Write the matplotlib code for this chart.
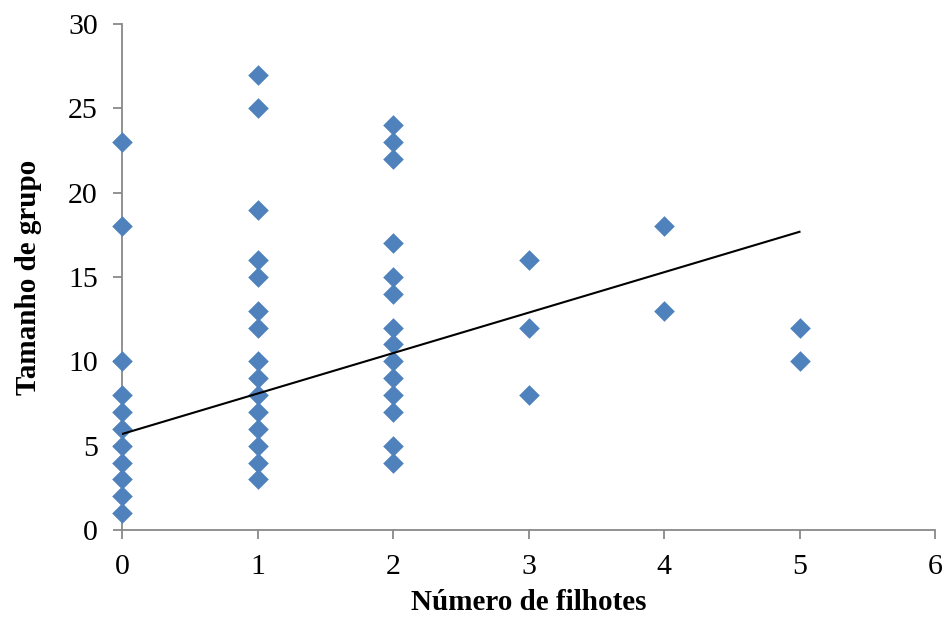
import matplotlib
matplotlib.use("Agg")
import matplotlib.pyplot as plt
import numpy as np

x0 = [0] * 11
y0 = [23, 18, 10, 8, 7, 6, 5, 4, 3, 2, 1]
x1 = [1] * 15
y1 = [27, 25, 19, 16, 15, 13, 12, 10, 9, 8, 7, 6, 5, 4, 3]
x2 = [2] * 14
y2 = [24, 23, 22, 17, 15, 14, 12, 11, 10, 9, 8, 7, 5, 4]
x3 = [3, 3, 3]
y3 = [16, 12, 8]
x4 = [4, 4]
y4 = [18, 13]
x5 = [5, 5]
y5 = [12, 10]

# linear trendline as drawn in the reference (values at x=0 and x=5)
trend_x = [0, 5]
trend_y = [5.69, 17.68]

xticks = [0, 1, 2, 3, 4, 5, 6]
yticks = [0, 5, 10, 15, 20, 25, 30]

xs = np.array(x0 + x1 + x2 + x3 + x4 + x5, dtype=float)
ys = np.array(y0 + y1 + y2 + y3 + y4 + y5, dtype=float)

plt.rcParams['font.family'] = ['Liberation Serif', 'DejaVu Serif']

fig = plt.figure(figsize=(9.45, 6.18), dpi=100)
ax = fig.add_axes([122/945, 1-530/618, (935-122)/945, (530-24)/618])

ax.plot(trend_x, trend_y, color='black', lw=1.5, zorder=3)
ax.scatter(xs, ys, marker='D', s=10.5**2, color='#4F81BD', linewidths=0, zorder=2, clip_on=False)

ax.set_xlim(0, 6)
ax.set_ylim(0, 30)
ax.set_xticks(xticks)
ax.set_yticks(yticks)
ax.tick_params(axis='both', labelsize=21.5, color='#898989', length=6.5, width=1.3, direction='out')
ax.tick_params(axis='x', pad=11)
ax.tick_params(axis='y', pad=11)
for s in ['top', 'right']:
    ax.spines[s].set_visible(False)
for s in ['left', 'bottom']:
    ax.spines[s].set_color('#898989')
    ax.spines[s].set_linewidth(1.3)
    ax.spines[s].set_zorder(1)
ax.set_xlabel('Número de filhotes', fontsize=21, fontweight='bold', labelpad=6)
ax.set_ylabel('Tamanho de grupo', fontsize=21, fontweight='bold', labelpad=19)

fig.savefig('out.png', dpi=100)
